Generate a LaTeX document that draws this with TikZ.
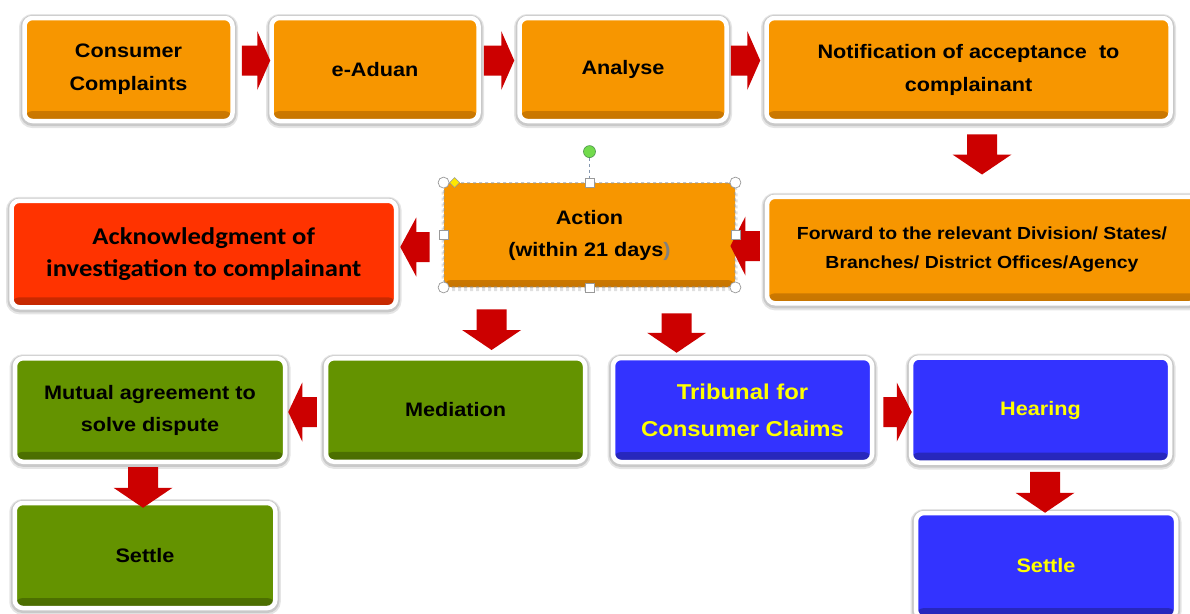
\documentclass[tikz,border=0pt]{standalone}
\usepackage{fontspec}
\setmainfont{Liberation Sans}[FakeStretch=1.11]
\newfontfamily\calib{Carlito}[FakeStretch=1.11]
\usetikzlibrary{calc}
\definecolor{bor}{HTML}{F79600}
\definecolor{bord}{HTML}{C77500}
\definecolor{bred}{HTML}{FF3300}
\definecolor{bredd}{HTML}{C42800}
\definecolor{bgr}{HTML}{649300}
\definecolor{bgrd}{HTML}{4A6C00}
\definecolor{bbl}{HTML}{3333FF}
\definecolor{bbld}{HTML}{2626B8}
\definecolor{arr}{HTML}{CC0000}
\definecolor{selgray}{HTML}{8497B0}
\definecolor{txtyellow}{HTML}{FFFF00}
\newcommand{\barrow}[3]{%
  \coordinate (ba) at ($(#2)!#3!(#1)$);
  \fill[arr] ($(#1)!15pt!90:(#2)$) -- ($(ba)!15pt!-90:(#1)$) -- ($(ba)!29.5pt!-90:(#1)$) -- (#2)
    -- ($(ba)!29.5pt!90:(#1)$) -- ($(ba)!15pt!90:(#1)$) -- ($(#1)!15pt!-90:(#2)$) -- cycle;}
\begin{document}
\begin{tikzpicture}[x=1pt,y=-1pt,
  boxbase/.style={rounded corners=8pt, draw=white, line width=4.5pt, inner sep=0pt, align=center, text=black,
    preaction={draw=black, draw opacity=0.10, line width=11pt, transform canvas={yshift=-1.5pt}},
    preaction={draw=black, draw opacity=0.12, line width=8pt, transform canvas={yshift=-1pt}},
    font=\bfseries\fontsize{19.5}{33}\selectfont},
  cbox/.style 2 args={boxbase, fill=#1,
    path picture={\shade[top color=#1, bottom color=#2] ([yshift=10pt]path picture bounding box.south west) rectangle (path picture bounding box.south east);}},
  obox/.style={cbox={bor}{bord}},
  rbox/.style={cbox={bred}{bredd}},
  gbox/.style={cbox={bgr}{bgrd}},
  bbox/.style={cbox={bbl}{bbld}, text=txtyellow},
  actbox/.style={rounded corners=7pt, fill=bor, draw=selgray, dashed, line width=0.8pt, inner sep=0pt, align=center,
    preaction={draw=black, draw opacity=0.12, line width=5pt, transform canvas={yshift=-1.5pt}},
    path picture={\shade[top color=bor, bottom color=bord] ([yshift=7pt]path picture bounding box.south west) rectangle (path picture bounding box.south east);},
    font=\bfseries\fontsize{19.5}{32}\selectfont},
  handle/.style={fill=white, draw=gray!80, line width=0.7pt}
]
\fill[white] (0,0) rectangle (1190,613);
\useasboundingbox (0,0) rectangle (1190,613);

% row 1
\node[obox, minimum width=208pt, minimum height=103pt] (c1) at (128.5,69.5) {Consumer\\Complaints};
\node[obox, minimum width=207pt, minimum height=103pt] (c2) at (375,69.5) {e-Aduan};
\node[obox, minimum width=207pt, minimum height=103pt] (c3) at (623,69.5) {Analyse};
\node[obox, minimum width=404pt, minimum height=103pt] (c4) at (968.5,69.5) {Notification of acceptance~ to\\complainant};

% row 2
\node[rbox, minimum width=384.5pt, minimum height=106.5pt, font=\calib\bfseries\fontsize{24}{32}\selectfont] (c5) at (203.75,254) {Acknowledgment of\\investigation to complainant};
\node[obox, minimum width=430pt, minimum height=106.5pt, font=\bfseries\fontsize{17.5}{29}\selectfont] (c7) at (982,250) {Forward to the relevant Division/ States/\\Branches/ District Offices/Agency};

% row 3
\node[gbox, minimum width=270pt, minimum height=103.5pt, font=\bfseries\fontsize{19.5}{32}\selectfont] (c8) at (150,410) {Mutual agreement to\\solve dispute};
\node[gbox, minimum width=259pt, minimum height=103.5pt] (c9) at (455.5,410) {Mediation};
\node[bbox, minimum width=259pt, minimum height=104pt, font=\bfseries\fontsize{21.5}{37}\selectfont] (c10) at (742.5,410) {Tribunal for\\Consumer Claims};
\node[bbox, minimum width=259pt, minimum height=105pt] (c11) at (1040.5,410) {Hearing};

% row 4
\node[gbox, minimum width=260.5pt, minimum height=105pt] (c12) at (145,555.5) {Settle};
\node[bbox, minimum width=260pt, minimum height=105pt] (c13) at (1046,565.5) {Settle};

% arrow end points
\coordinate (a1s) at ($(c1.east)+(7,-9)$);
\coordinate (a1e) at ($(c2.west)+(1,-9)$);
\coordinate (a2s) at ($(c2.east)+(3,-9)$);
\coordinate (a2e) at ($(c3.west)+(-3,-9)$);
\coordinate (a3s) at ($(c3.east)+(2,-9)$);
\coordinate (a3e) at ($(c4.west)+(-4,-9)$);
\coordinate (a4s) at ($(c7.north |- c4.south)+(0,11)$);
\coordinate (a4e) at ($(c7.north)+(0,-20)$);

% row 1 arrows
\barrow{a1s}{a1e}{13pt}
\barrow{a2s}{a2e}{13pt}
\barrow{a3s}{a3e}{13pt}
\barrow{a4s}{a4e}{20pt}

% action node (selected)
\node[actbox, minimum width=291pt, minimum height=104pt] (c6) at (589.5,235) {Action\\(within 21 days\textcolor{gray}{)}};

\coordinate (a5s) at ($(c7.west)+(-5,-4)$);
\coordinate (a5e) at ($(c6.east |- a5s)+(-5,0)$);
\coordinate (a6s) at ($(c6.west)+(-14,12)$);
\coordinate (a6e) at ($(c5.east |- a6s)+(2,0)$);
\coordinate (a7s) at ($(c6.south west)+(48,22)$);
\coordinate (a7e) at ($(a7s |- c9.north)+(0,-6)$);
\coordinate (a8s) at ($(c6.south west)+(233,26)$);
\coordinate (a8e) at ($(a8s |- c10.north)+(0,-3)$);
\coordinate (a9s) at ($(c9.west)+(-7,2)$);
\coordinate (a9e) at ($(c8.east |- a9s)+(1,0)$);
\coordinate (a10s) at ($(c10.east)+(9,2)$);
\coordinate (a10e) at ($(c11.west |- a10s)+(3,0)$);
\coordinate (a11s) at ($(c12.north |- c8.south)+(-2,3)$);
\coordinate (a11e) at ($(c12.north)+(-2,7)$);
\coordinate (a12s) at ($(c11.south)+(4.5,7)$);
\coordinate (a12e) at ($(a12s |- c13.north)+(0,2)$);

\barrow{a5s}{a5e}{15pt}
\barrow{a6s}{a6e}{16pt}
\barrow{a7s}{a7e}{20pt}
\barrow{a8s}{a8e}{20pt}
\barrow{a9s}{a9e}{14pt}
\barrow{a10s}{a10e}{15pt}
\barrow{a11s}{a11e}{20pt}
\barrow{a12s}{a12e}{20pt}

% selection handles on the action box
\draw[selgray, dashed, line width=0.8pt] ($(c6.north)+(0,-25)$) -- (c6.north);
\filldraw[fill=green!65!lime!80!black!70, draw=green!40!black!70, line width=0.6pt] ($(c6.north)+(0,-31)$) circle (6pt);
\foreach \an in {north west, north east, south west, south east}
  \draw[handle] (c6.\an) circle (5.5pt);
\foreach \an in {north, south, east, west}
  \draw[handle] ($(c6.\an)+(-4.5,-4.5)$) rectangle ($(c6.\an)+(4.5,4.5)$);
\filldraw[fill=yellow!90!orange, draw=gray!80, line width=0.6pt]
  ($(c6.north west)+(11,-5)$) -- ($(c6.north west)+(16,0)$) -- ($(c6.north west)+(11,5)$) -- ($(c6.north west)+(6,0)$) -- cycle;
\end{tikzpicture}
\end{document}
